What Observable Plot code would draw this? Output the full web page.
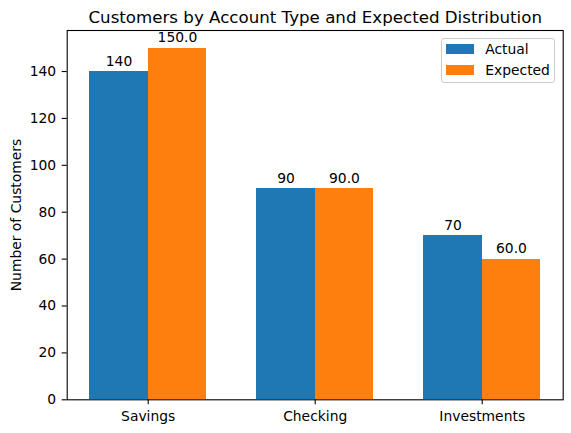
<!DOCTYPE html>
<html>
<head>
<meta charset="utf-8">
<script src="https://cdn.jsdelivr.net/npm/d3@7"></script>
<script src="https://cdn.jsdelivr.net/npm/@observablehq/plot@0.6"></script>
<style>
  body { margin: 0; background: white; }
  #wrap { position: relative; width: 571px; height: 433px; font-family: "DejaVu Sans", sans-serif; }
  #ylabel { position: absolute; width: 200px; height: 14px; line-height: 14px; font-size: 13.89px; text-align: center; transform: rotate(-90deg); white-space: nowrap; }
  #legend { position: absolute; left: 440.7px; top: 37.7px; width: 112.5px; height: 43px; border: 1px solid #cccccc; border-radius: 3px; background: rgba(255,255,255,0.8); font-size: 13.89px; }
  .lrow { position: absolute; left: 0; height: 14px; line-height: 14px; white-space: nowrap; }
  .lpatch { position: absolute; left: 4.5px; top: 2.2px; width: 27.5px; height: 9.6px; }
  .ltext { position: absolute; left: 43.5px; top: 0; }
</style>
</head>
<body>
<div id="wrap"></div>
<script>
const title = "Customers by Account Type and Expected Distribution";
const yLabel = "Number of Customers";
const categories = ["Savings", "Checking", "Investments"];
const series = ["Actual", "Expected"];
const actual = [140, 90, 70];
const expected = [150, 90, 60];
const colors = ["#1f77b4", "#ff7f0e"];
const yTicks = [0, 20, 40, 60, 80, 100, 120, 140];

const barWidth = 0.35;
const rows = [];
categories.forEach((c, i) => {
  rows.push({cat: c, i, series: "Actual", value: actual[i], x1: i - barWidth, x2: i, label: String(actual[i])});
  rows.push({cat: c, i, series: "Expected", value: expected[i], x1: i, x2: i + barWidth, label: expected[i].toFixed(1)});
});

const chart = Plot.plot({
  width: 571,
  height: 433,
  marginLeft: 66.7,
  marginRight: 8.3,
  marginTop: 30,
  marginBottom: 33.7,
  style: {fontFamily: "DejaVu Sans", fontSize: "13.89px", color: "black", background: "white", overflow: "visible"},
  x: {type: "linear", domain: [-0.485, 2.485]},
  y: {domain: [0, 157.5]},
  color: {domain: series, range: colors},
  marks: [
    Plot.rect(rows, {x1: "x1", x2: "x2", y1: 0, y2: "value", fill: "series", shapeRendering: "crispEdges"}),
    Plot.axisX({ticks: categories.map((c, i) => i), tickFormat: i => categories[i], tickSize: 5, tickPadding: 6, label: null, stroke: "black", strokeWidth: 1.1}),
    Plot.axisY({ticks: yTicks, tickSize: 5, tickPadding: 6, label: null, stroke: "black", strokeWidth: 1.1}),
    Plot.frame({stroke: "black", strokeWidth: 1.1}),
    Plot.text(rows, {x: d => (d.x1 + d.x2) / 2, y: "value", text: "label", dy: -6, lineAnchor: "bottom", fill: "black", fontSize: 13.89}),
    Plot.text([title], {frameAnchor: "top", dy: -7.5, lineAnchor: "bottom", fill: "black", fontSize: 16.67})
  ]
});

const wrap = document.getElementById("wrap");
chart.style.position = "absolute";
chart.style.left = "0px";
chart.style.top = "0px";
wrap.appendChild(chart);

const yl = document.createElement("div");
yl.id = "ylabel";
yl.textContent = yLabel;
yl.style.left = (15.75 - 100) + "px";
yl.style.top = (214.7 - 7) + "px";
wrap.appendChild(yl);

const legend = document.createElement("div");
legend.id = "legend";
series.forEach((s, k) => {
  const row = document.createElement("div");
  row.className = "lrow";
  row.style.top = (3.5 + k * 21) + "px";
  const p = document.createElement("div");
  p.className = "lpatch";
  p.style.background = colors[k];
  const t = document.createElement("div");
  t.className = "ltext";
  t.textContent = s;
  row.appendChild(p);
  row.appendChild(t);
  legend.appendChild(row);
});
wrap.appendChild(legend);
</script>
</body>
</html>
